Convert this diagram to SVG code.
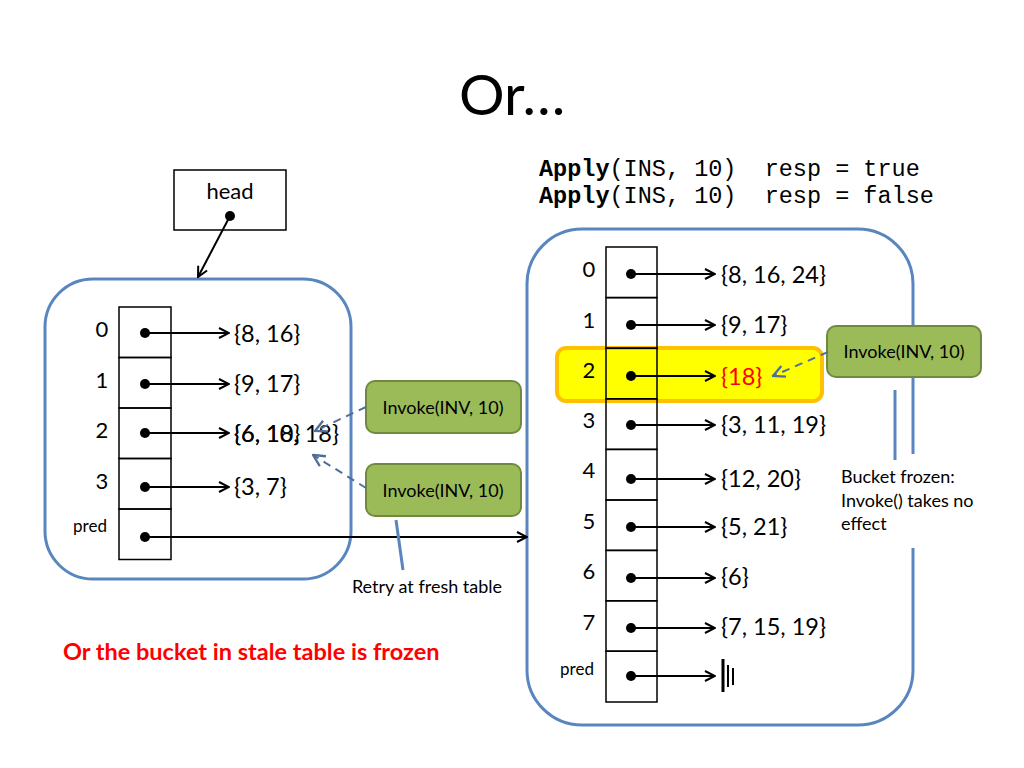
<svg xmlns="http://www.w3.org/2000/svg" width="1024" height="768" viewBox="0 0 1024 768">
<style>
  text { font-family: Lato, "Open Sans", "Liberation Sans", sans-serif; fill: #000; }
  .title { font-size: 57px; }
  .mono { font-family: "Liberation Mono", "DejaVu Sans Mono", monospace; font-size: 23.5px; white-space: pre; }
  .idx { font-size: 22px; text-anchor: middle; }
  .predl { font-size: 17px; text-anchor: middle; }
  .val { font-size: 23.5px; }
  .small { font-size: 18px; }
  .inv { font-size: 18px; text-anchor: middle; }
  .cell { fill: none; stroke: #000; stroke-width: 1.5; }
  .tbl { fill: #fff; stroke: #5a86bf; stroke-width: 3; }
  .ptr { stroke: #000; stroke-width: 2; fill: none; }
  .dash { stroke: #4f6f9a; stroke-width: 2; stroke-dasharray: 8 6; fill: none; }
  .call { stroke: #5a86bf; stroke-width: 3; fill: none; }
  .ibox { fill: #9bbb59; stroke: #71893f; stroke-width: 2; }
</style>
<defs>
  <marker id="ah" viewBox="0 0 12 12" refX="11" refY="6" markerWidth="12" markerHeight="12" markerUnits="userSpaceOnUse" orient="auto">
    <path d="M1,1 L11,6 L1,11" fill="none" stroke="#000" stroke-width="2"/>
  </marker>
  <marker id="ahb" viewBox="0 0 12 12" refX="11" refY="6" markerWidth="14" markerHeight="14" markerUnits="userSpaceOnUse" orient="auto">
    <path d="M1,1 L11,6 L1,11" fill="none" stroke="#4f6f9a" stroke-width="2"/>
  </marker>
  <circle id="dot" r="5" fill="#000"/>
</defs>
<rect width="1024" height="768" fill="#fff"/>

<text class="title" x="459" y="115">Or…</text>

<g id="apply">
  <text class="mono" x="539" y="176" xml:space="preserve"><tspan font-weight="bold">Apply</tspan>(INS, 10)  resp = true</text>
  <text class="mono" x="539" y="203" xml:space="preserve"><tspan font-weight="bold">Apply</tspan>(INS, 10)  resp = false</text>
</g>

<g id="head">
  <rect x="174" y="170" width="112" height="60" fill="#fff" stroke="#000" stroke-width="1.5"/>
  <text x="230" y="199" font-size="22" text-anchor="middle">head</text>
</g>

<!-- Left (stale) table -->
<g id="stale-table">
  <rect class="tbl" x="45" y="279" width="306" height="300" rx="48"/>
  <rect class="cell" x="119" y="307" width="52" height="50.5"/>
  <rect class="cell" x="119" y="357.5" width="52" height="50.5"/>
  <rect class="cell" x="119" y="408" width="52" height="50.5"/>
  <rect class="cell" x="119" y="458.5" width="52" height="50.5"/>
  <rect class="cell" x="119" y="509" width="52" height="50.5"/>
  <text class="idx" x="102" y="337">0</text>
  <text class="idx" x="102" y="388">1</text>
  <text class="idx" x="102" y="438">2</text>
  <text class="idx" x="102" y="489">3</text>
  <text class="predl" x="90" y="532">pred</text>
  <text class="val" x="234" y="342">{8, 16}</text>
  <text class="val" x="234" y="392">{9, 17}</text>
  <text class="val" x="234" y="442">{6, 10, 18}</text>
  <text class="val" x="234" y="442">{6, 18}</text>
  <text class="val" x="234" y="495">{3, 7}</text>
</g>

<!-- Right (fresh) table -->
<g id="fresh-table">
  <rect class="tbl" x="527" y="229" width="386" height="496" rx="55"/>
  <rect x="557" y="348" width="265" height="53" rx="9" fill="#ffff00" stroke="#ffc000" stroke-width="4"/>
  <rect class="cell" x="606" y="247" width="51" height="50.6"/>
  <rect class="cell" x="606" y="297.6" width="51" height="50.6"/>
  <rect class="cell" x="606" y="348.2" width="51" height="50.6"/>
  <rect class="cell" x="606" y="398.8" width="51" height="50.6"/>
  <rect class="cell" x="606" y="449.4" width="51" height="50.6"/>
  <rect class="cell" x="606" y="500" width="51" height="50.4"/>
  <rect class="cell" x="606" y="550.4" width="51" height="50.4"/>
  <rect class="cell" x="606" y="600.8" width="51" height="50.4"/>
  <rect class="cell" x="606" y="651.2" width="51" height="50.8"/>
  <text class="idx" x="589" y="277">0</text>
  <text class="idx" x="589" y="328">1</text>
  <text class="idx" x="589" y="378">2</text>
  <text class="idx" x="589" y="428">3</text>
  <text class="idx" x="589" y="478">4</text>
  <text class="idx" x="589" y="529">5</text>
  <text class="idx" x="589" y="579">6</text>
  <text class="idx" x="589" y="630">7</text>
  <text class="predl" x="577" y="675">pred</text>
  <text class="val" x="721" y="283">{8, 16, 24}</text>
  <text class="val" x="721" y="333">{9, 17}</text>
  <text class="val" x="721" y="385" style="fill:#ff0000">{18}</text>
  <text class="val" x="721" y="433">{3, 11, 19}</text>
  <text class="val" x="721" y="487">{12, 20}</text>
  <text class="val" x="721" y="535">{5, 21}</text>
  <text class="val" x="721" y="585">{6}</text>
  <text class="val" x="721" y="635">{7, 15, 19}</text>
  <g id="frozen-mark" stroke="#000">
    <line x1="723" y1="659" x2="723" y2="692" stroke-width="3"/>
    <line x1="728" y1="665" x2="728" y2="687" stroke-width="2"/>
    <line x1="733" y1="668" x2="733" y2="685" stroke-width="2"/>
  </g>
</g>

<g id="invoke-right">
  <rect class="ibox" x="827" y="326" width="154" height="51" rx="9"/>
  <text class="inv" x="904" y="358">Invoke(INV, 10)</text>
</g>
<g id="invoke-left-1">
  <rect class="ibox" x="366" y="381" width="155" height="52" rx="9"/>
  <text class="inv" x="443" y="414">Invoke(INV, 10)</text>
</g>
<g id="invoke-left-2">
  <rect class="ibox" x="366" y="464" width="155" height="52" rx="9"/>
  <text class="inv" x="443" y="497">Invoke(INV, 10)</text>
</g>

<g id="frozen-note">
  <rect x="834" y="454" width="150" height="94" fill="#fff"/>
  <text class="small" x="841" y="483">Bucket frozen:</text>
  <text class="small" x="841" y="507">Invoke() takes no</text>
  <text class="small" x="841" y="530">effect</text>
</g>

<g id="retry-note">
  <text class="small" x="427" y="593" text-anchor="middle">Retry at fresh table</text>
</g>

<text x="63" y="660" font-size="23.5" font-weight="bold" style="fill:#ff0000">Or the bucket in stale table is frozen</text>

<g id="connectors">
  <use href="#dot" x="230" y="216"/>
  <line class="ptr" x1="230" y1="216" x2="198" y2="277" marker-end="url(#ah)"/>
  <use href="#dot" x="145" y="333"/>
  <line class="ptr" x1="145" y1="333" x2="229" y2="333" marker-end="url(#ah)"/>
  <use href="#dot" x="145" y="384"/>
  <line class="ptr" x1="145" y1="384" x2="229" y2="384" marker-end="url(#ah)"/>
  <use href="#dot" x="145" y="433"/>
  <line class="ptr" x1="145" y1="433" x2="229" y2="433" marker-end="url(#ah)"/>
  <use href="#dot" x="145" y="487"/>
  <line class="ptr" x1="145" y1="487" x2="229" y2="487" marker-end="url(#ah)"/>
  <use href="#dot" x="145" y="537"/>
  <line class="ptr" x1="145" y1="537" x2="527" y2="537" marker-end="url(#ah)"/>
  <use href="#dot" x="631" y="274"/>
  <line class="ptr" x1="631" y1="274" x2="715" y2="274" marker-end="url(#ah)"/>
  <use href="#dot" x="631" y="325"/>
  <line class="ptr" x1="631" y1="325" x2="715" y2="325" marker-end="url(#ah)"/>
  <use href="#dot" x="631" y="376"/>
  <line class="ptr" x1="631" y1="376" x2="715" y2="376" marker-end="url(#ah)"/>
  <use href="#dot" x="631" y="425"/>
  <line class="ptr" x1="631" y1="425" x2="715" y2="425" marker-end="url(#ah)"/>
  <use href="#dot" x="631" y="479"/>
  <line class="ptr" x1="631" y1="479" x2="715" y2="479" marker-end="url(#ah)"/>
  <use href="#dot" x="631" y="527"/>
  <line class="ptr" x1="631" y1="527" x2="715" y2="527" marker-end="url(#ah)"/>
  <use href="#dot" x="631" y="578"/>
  <line class="ptr" x1="631" y1="578" x2="715" y2="578" marker-end="url(#ah)"/>
  <use href="#dot" x="631" y="628"/>
  <line class="ptr" x1="631" y1="628" x2="715" y2="628" marker-end="url(#ah)"/>
  <use href="#dot" x="631" y="676"/>
  <line class="ptr" x1="631" y1="676" x2="715" y2="676" marker-end="url(#ah)"/>
  <line class="dash" x1="828" y1="352" x2="773" y2="376" marker-end="url(#ahb)"/>
  <line class="dash" x1="366" y1="407" x2="315" y2="431" marker-end="url(#ahb)"/>
  <line class="dash" x1="366" y1="488" x2="313" y2="455" marker-end="url(#ahb)"/>
  <line class="call" x1="396" y1="520" x2="403" y2="570"/>
  <line class="call" x1="895" y1="390" x2="895" y2="460"/>
</g>
</svg>
